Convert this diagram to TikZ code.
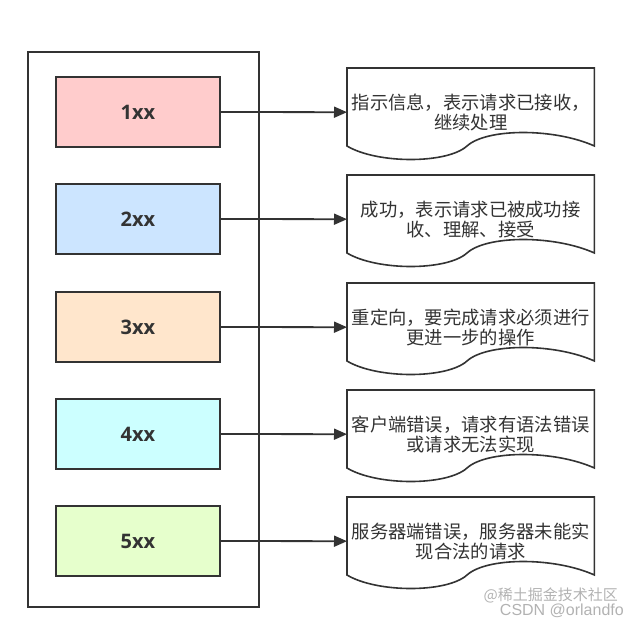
\documentclass[tikz,border=0pt]{standalone}
\usepackage{fontspec}
\setmainfont{Noto Sans CJK SC}
\newfontfamily\lblfont{Open Sans}
\newfontfamily\wmfont{Liberation Sans}
\usetikzlibrary{arrows.meta,calc}
\definecolor{ink}{HTML}{333333}
\definecolor{c1}{HTML}{FFCCCC}
\definecolor{c2}{HTML}{CCE5FF}
\definecolor{c3}{HTML}{FFE6CC}
\definecolor{c4}{HTML}{CCFFFF}
\definecolor{c5}{HTML}{E6FFCC}
\tikzset{
  codebox/.style={draw=ink, line width=1.6pt, minimum width=164pt, minimum height=70pt, inner sep=0pt,
    font=\lblfont\bfseries\fontsize{20}{22}\selectfont, text=ink},
  docnode/.style={minimum width=247pt, minimum height=88pt, inner sep=0pt, anchor=north west,
    align=center, font=\fontsize{18.3}{20}\selectfont, text=ink},
  docshape/.style={draw=ink, line width=1.6pt, fill=white},
  link/.style={draw=ink, line width=1.8pt, -{Triangle[length=13pt,width=11pt]}},
  outer/.style={draw=ink, line width=1.6pt}
}
\newcommand{\docpath}[1]{%
  \path[docshape] (#1.north west) -- (#1.north east) -- ($(#1.north east)+(0,78)$)
    .. controls ($(#1.north east)+(-40,60)$) and ($(#1.north west)+(140,60)$) .. ($(#1.north west)+(120,78)$)
    .. controls ($(#1.north west)+(100,96)$) and ($(#1.north west)+(30,96)$) .. ($(#1.north west)+(0,78)$)
    -- cycle;}
\begin{document}
\begin{tikzpicture}[x=1pt,y=-1pt]
\useasboundingbox (0,0) rectangle (638,624);
\node[outer, minimum width=231pt, minimum height=555pt, inner sep=0pt, anchor=north west] (frame) at (27,51) {};
\node[codebox, fill=c1] (b1) at (138,112) {1xx};
\node[codebox, fill=c2] (b2) at (138,219) {2xx};
\node[codebox, fill=c3] (b3) at (138,327) {3xx};
\node[codebox, fill=c4] (b4) at (138,434) {4xx};
\node[codebox, fill=c5] (b5) at (138,541) {5xx};
\node[docnode] (d1) at (347,68) {};
\node[docnode] (d2) at (347,175) {};
\node[docnode] (d3) at (347,283) {};
\node[docnode] (d4) at (347,390) {};
\node[docnode] (d5) at (347,497) {};
\docpath{d1}\docpath{d2}\docpath{d3}\docpath{d4}\docpath{d5}
\node[docnode, anchor=center] at (d1.center) {指示信息，表示请求已接收，\\继续处理};
\node[docnode, anchor=center] at (d2.center) {成功，表示请求已被成功接\\收、理解、接受};
\node[docnode, anchor=center] at (d3.center) {重定向，要完成请求必须进行\\更进一步的操作};
\node[docnode, anchor=center] at (d4.center) {客户端错误，请求有语法错误\\或请求无法实现};
\node[docnode, anchor=center] at (d5.center) {服务器端错误，服务器未能实\\现合法的请求};
\draw[link] (b1.east) -- (d1.west);
\draw[link] (b2.east) -- (d2.west);
\draw[link] (b3.east) -- (d3.west);
\draw[link] (b4.east) -- (d4.west);
\draw[link] (b5.east) -- (d5.west);
\node[text=black!30, font=\fontsize{15}{15}\selectfont, anchor=east, inner sep=0pt] (wm1) at (618,595) {@稀土掘金技术社区};
\node[text=black!30, font=\wmfont\fontsize{16}{16}\selectfont, anchor=east, inner sep=0pt] (wm2) at (624,611) {CSDN @orlandfo};
\end{tikzpicture}
\end{document}
